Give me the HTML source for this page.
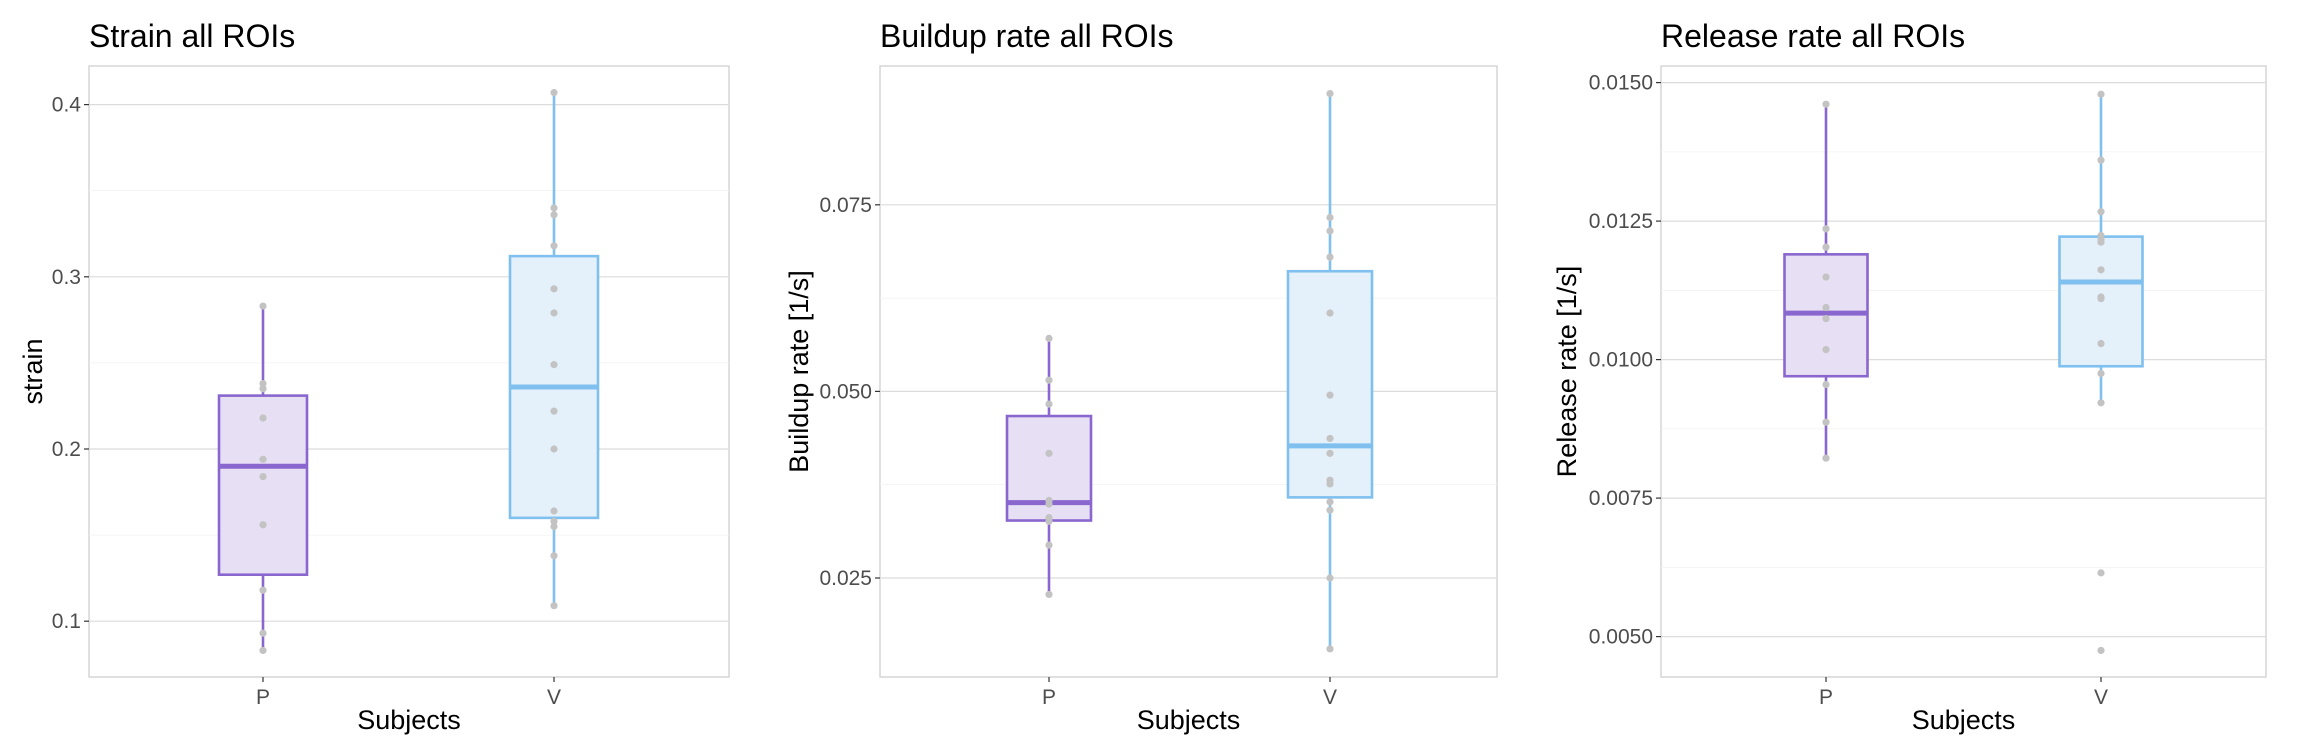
<!DOCTYPE html>
<html><head><meta charset="utf-8"><style>
html,body{margin:0;padding:0;background:#fff;}
svg{display:block;font-family:"Liberation Sans",Arial,sans-serif;}
</style></head><body>
<svg id="chart" width="2299" height="753" viewBox="0 0 2299 753"></svg>
<script>
const categories = ["P","V"];
const strainP = [0.283,0.238,0.235,0.218,0.194,0.184,0.156,0.118,0.093,0.083];
const strainV = [0.407,0.340,0.336,0.318,0.293,0.279,0.249,0.222,0.200,0.164,0.158,0.155,0.138,0.109];
const strainBoxP = [0.083,0.127,0.190,0.231,0.283];
const strainBoxV = [0.109,0.160,0.236,0.312,0.407];
const strainTicks = [0.1,0.2,0.3,0.4];
const strainTickLabels = ["0.1","0.2","0.3","0.4"];
const buildP = [0.0571,0.0515,0.0483,0.0417,0.0354,0.0349,0.0331,0.0326,0.0294,0.0228];
const buildV = [0.0899,0.0733,0.0715,0.0680,0.0605,0.0495,0.0437,0.0417,0.0381,0.0376,0.0352,0.0341,0.0250,0.0155];
const buildBoxP = [0.0228,0.0327,0.0351,0.0467,0.0571];
const buildBoxV = [0.0155,0.0358,0.0427,0.0661,0.0899];
const buildTicks = [0.025,0.05,0.075];
const buildTickLabels = ["0.025","0.050","0.075"];
const relP = [0.01461,0.01236,0.01203,0.01149,0.01094,0.01074,0.01018,0.00955,0.00887,0.00822];
const relV = [0.01479,0.01360,0.01267,0.01224,0.01217,0.01212,0.01162,0.01113,0.01110,0.01029,0.00975,0.00922,0.00615,0.00475];
const relBoxP = [0.00822,0.00970,0.01084,0.01190,0.01461];
const relBoxV = [0.00922,0.00988,0.01140,0.01222,0.01479];
const relTicks = [0.005,0.0075,0.01,0.0125,0.015];
const relTickLabels = ["0.0050","0.0075","0.0100","0.0125","0.0150"];

const NS="http://www.w3.org/2000/svg";
const svg=document.getElementById('chart');
function mk(tag,attrs,parent,name){const e=document.createElementNS(NS,tag);for(const k in attrs)e.setAttribute(k,attrs[k]);


(parent||svg).appendChild(e);return e;}

const colors=[{s:"#8a67cf",f:"#e7dff4"},{s:"#7fc0ef",f:"#e4f1fb"}];
function panel(cfg){
  const g=mk('g',{},svg,cfg.id);
  const {x0,x1,y0,y1}=cfg;
  const ys=v=>cfg.gy0+(v-cfg.gv0)*(cfg.gy1-cfg.gy0)/(cfg.gv1-cfg.gv0);
  const xpos=i=>(i===0?cfg.px:cfg.vx);
  mk('rect',{x:x0,y:y0,width:x1-x0,height:y1-y0,fill:"#fff",stroke:"#d0d0d0","stroke-width":1.3},g,'plot-panel');
  for(let k=0;k<cfg.ticks.length-1;k++){const m=(cfg.ticks[k]+cfg.ticks[k+1])/2;
    mk('line',{x1:x0,x2:x1,y1:ys(m),y2:ys(m),stroke:"#f2f2f2","stroke-width":0.8},g,'minor-gridline');}
  cfg.ticks.forEach((t,k)=>{const y=ys(t);
    mk('line',{x1:x0,x2:x1,y1:y,y2:y,stroke:"#dcdcdc","stroke-width":1.2},g,'gridline');
    mk('line',{x1:x0-5,x2:x0,y1:y,y2:y,stroke:"#333","stroke-width":1.2},g,'y-tick');
    const t2=mk('text',{x:x0-8,y:y+7,"text-anchor":"end","font-size":21,fill:"#4d4d4d"},g,'y-tick-label');t2.textContent=cfg.labels[k];
  });
  [0,1].forEach(i=>{const x=xpos(i);
    mk('line',{x1:x,x2:x,y1:y1,y2:y1+5,stroke:"#333","stroke-width":1.2},g,'x-tick');
    const t=mk('text',{x:x,y:y1+27,"text-anchor":"middle","font-size":21,fill:"#4d4d4d"},g,'x-tick-label');t.textContent=categories[i];
  });
  [cfg.boxP,cfg.boxV].forEach((b,i)=>{const x=xpos(i),c=colors[i],w=cfg.bw;
    mk('line',{x1:x,x2:x,y1:ys(b[0]),y2:ys(b[4]),stroke:c.s,"stroke-width":2.6},g,'whisker-'+categories[i]);
    mk('rect',{x:x-w/2,y:ys(b[3]),width:w,height:ys(b[1])-ys(b[3]),fill:c.f,stroke:c.s,"stroke-width":2.6},g,'box-'+categories[i]);
    mk('line',{x1:x-w/2,x2:x+w/2,y1:ys(b[2]),y2:ys(b[2]),stroke:c.s,"stroke-width":5},g,'median-'+categories[i]);
  });
  [cfg.ptsP,cfg.ptsV].forEach((arr,i)=>{arr.forEach(v=>{
    mk('circle',{cx:xpos(i),cy:ys(v),r:3.6,fill:"#c3c3c3"},g,'point-'+categories[i]);});});
  const tt=mk('text',{x:x0,y:47,"font-size":32,fill:"#000"},g,'chart-title');tt.textContent=cfg.title;
  const xt=mk('text',{x:(x0+x1)/2,y:729,"text-anchor":"middle","font-size":27,fill:"#000"},g,'x-axis-title');xt.textContent="Subjects";
  const yt=mk('text',{x:0,y:0,"text-anchor":"middle","font-size":27,fill:"#000",transform:`translate(${cfg.ytx},${(y0+y1)/2}) rotate(-90)`},g,'y-axis-title');yt.textContent=cfg.ytitle;
}
panel({id:'strain-panel',title:"Strain all ROIs",ytitle:"strain",x0:89,x1:729,y0:66,y1:677,px:263,vx:554,bw:88,
  gv0:0.1,gy0:621.2,gv1:0.4,gy1:104.6,ticks:strainTicks,labels:strainTickLabels,boxP:strainBoxP,boxV:strainBoxV,ptsP:strainP,ptsV:strainV,ytx:42});
panel({id:'buildup-panel',title:"Buildup rate all ROIs",ytitle:"Buildup rate [1/s]",x0:880,x1:1497,y0:66,y1:677,px:1049,vx:1330,bw:84,
  gv0:0.025,gy0:578,gv1:0.075,gy1:204.8,ticks:buildTicks,labels:buildTickLabels,boxP:buildBoxP,boxV:buildBoxV,ptsP:buildP,ptsV:buildV,ytx:808});
panel({id:'release-panel',title:"Release rate all ROIs",ytitle:"Release rate [1/s]",x0:1661,x1:2266,y0:66,y1:677,px:1826,vx:2101,bw:83,
  gv0:0.005,gy0:636.6,gv1:0.015,gy1:82.6,ticks:relTicks,labels:relTickLabels,boxP:relBoxP,boxV:relBoxV,ptsP:relP,ptsV:relV,ytx:1576});
</script>
</body></html>
